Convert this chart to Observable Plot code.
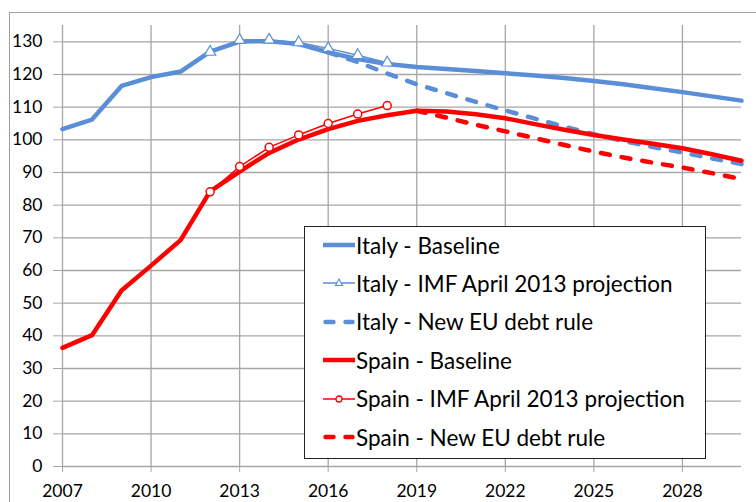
<!DOCTYPE html>
<html>
<head>
<meta charset="utf-8">
<script src="https://cdn.jsdelivr.net/npm/d3@7"></script>
<script src="https://cdn.jsdelivr.net/npm/@observablehq/plot@0.6"></script>
<style>
  html, body { margin: 0; padding: 0; background: #fff; }
  #wrap { position: relative; width: 756px; height: 502px; overflow: hidden; font-family: Lato, "Open Sans", sans-serif; }
  #border { position: absolute; left: 9px; top: 12px; width: 800px; height: 600px; border: 1px solid #a0a0a0; box-sizing: border-box; }
  #chart { position: absolute; left: 0; top: 0; }
  #legend { position: absolute; left: 304px; top: 226px; width: 402px; height: 233px; background: #fff; border: 1px solid #222; box-sizing: border-box; }
  .row { position: absolute; left: 18px; height: 26px; display: flex; align-items: center; font-size: 22.5px; color: #000; white-space: nowrap; }
  .row svg { width: 32px; height: 14px; display: block; }
  .row span { margin-left: 1px; }
</style>
</head>
<body>
<div id="wrap">
  <div id="border"></div>
  <div id="chart"></div>
  <div id="legend"></div>
</div>
<script>
// ---- data ----
const years = [2007,2008,2009,2010,2011,2012,2013,2014,2015,2016,2017,2018,2019,2020,2021,2022,2023,2024,2025,2026,2027,2028,2029,2030];
const italyBaseline = [103.3,106.2,116.5,119.2,120.9,127.0,130.1,130.2,129.3,126.8,124.7,123.2,122.3,121.7,121.1,120.4,119.7,118.9,118.0,117.0,115.8,114.6,113.3,112.0];
const italyIMFYears = [2012,2013,2014,2015,2016,2017,2018];
const italyIMF = [126.9,130.5,130.6,129.8,128.0,125.9,123.6];
const italyEUYears = [2016,2017,2018,2019,2020,2021,2022,2023,2024,2025,2026,2027,2028,2029,2030];
const italyEU = [126.8,123.8,120.3,117.0,114.3,111.6,109.0,106.5,104.0,101.7,99.6,97.8,96.1,94.3,92.6];
const spainBaseline = [36.3,40.2,53.9,61.5,69.3,84.2,90.3,96.0,100.1,103.3,105.8,107.5,108.9,108.7,107.8,106.6,104.8,103.1,101.5,100.1,98.8,97.4,95.6,93.6];
const spainIMFYears = [2012,2013,2014,2015,2016,2017,2018];
const spainIMF = [84.1,91.8,97.7,101.5,105.0,107.9,110.5];
const spainEUYears = [2019,2020,2021,2022,2023,2024,2025,2026,2027,2028,2029,2030];
const spainEU = [108.9,106.8,104.6,102.6,100.5,98.4,96.4,94.6,93.0,91.5,89.8,88.0];
const xTicks = [2007,2010,2013,2016,2019,2022,2025,2028];
const yTicks = [0,10,20,30,40,50,60,70,80,90,100,110,120,130];
const seriesNames = ["Italy - Baseline","Italy - IMF April 2013 projection","Italy - New EU debt rule","Spain - Baseline","Spain - IMF April 2013 projection","Spain - New EU debt rule"];

const blue = "#5a8fd8";
const red = "#ff0000";
const grid = "#a6a6a6";

const zip = (xs, ys) => xs.map((x, i) => ({x, y: ys[i]}));
const itB = zip(years, italyBaseline);
const itI = zip(italyIMFYears, italyIMF);
const itE = zip(italyEUYears, italyEU);
const spB = zip(years, spainBaseline);
const spI = zip(spainIMFYears, spainIMF);
const spE = zip(spainEUYears, spainEU);

const plot = Plot.plot({
  width: 756,
  height: 502,
  marginLeft: 62,
  marginRight: 15,
  marginTop: 25,
  marginBottom: 36,
  style: {fontFamily: "Lato, 'Open Sans', sans-serif", fontSize: "17.5px", background: "transparent", overflow: "visible"},
  x: {domain: [2007, 2030]},
  y: {domain: [0, 135]},
  marks: [
    Plot.gridY(yTicks.filter(d => d > 0), {stroke: grid, strokeOpacity: 1, strokeWidth: 1.3}),
    Plot.gridX(xTicks.filter(d => d > 2007), {stroke: grid, strokeOpacity: 1, strokeWidth: 1.3}),
    Plot.ruleX([2007], {stroke: grid, strokeWidth: 1.3}),
    Plot.ruleY([0], {stroke: grid, strokeWidth: 1.3}),
    Plot.axisX({ticks: xTicks, tickFormat: d => String(d), tickSize: 6, tickPadding: 12, stroke: grid, fill: "#000", fontSize: 17.5, label: null}),
    Plot.axisY({ticks: yTicks, tickSize: 9, tickPadding: 11, stroke: grid, fill: "#000", fontSize: 17.5, label: null}),
    Plot.line(itB, {x: "x", y: "y", stroke: blue, strokeWidth: 4.5}),
    Plot.line(itI, {x: "x", y: "y", stroke: blue, strokeWidth: 1.5}),
    Plot.dot(itI, {x: "x", y: "y", symbol: "triangle", r: 4.2, stroke: blue, fill: "#fff", strokeWidth: 1.2}),
    Plot.line(itE, {x: "x", y: "y", stroke: blue, strokeWidth: 4.5, strokeDasharray: "9,12", strokeLinecap: "round"}),
    Plot.line(spB, {x: "x", y: "y", stroke: red, strokeWidth: 4.5}),
    Plot.line(spI, {x: "x", y: "y", stroke: red, strokeWidth: 1.5}),
    Plot.dot(spI, {x: "x", y: "y", symbol: "circle", r: 4, stroke: red, fill: "#fff", strokeWidth: 1.5}),
    Plot.line(spE, {x: "x", y: "y", stroke: red, strokeWidth: 4.5, strokeDasharray: "9,12", strokeLinecap: "round"})
  ]
});
document.getElementById("chart").appendChild(plot);

// ---- legend ----
const legendStyles = [
  {color: blue, w: 4.5, dash: null, marker: null},
  {color: blue, w: 1.5, dash: null, marker: "triangle"},
  {color: blue, w: 4.5, dash: "8,12", marker: null},
  {color: red, w: 4.5, dash: null, marker: null},
  {color: red, w: 1.5, dash: null, marker: "circle"},
  {color: red, w: 4.5, dash: "8,12", marker: null}
];
const legend = document.getElementById("legend");
seriesNames.forEach((name, i) => {
  const s = legendStyles[i];
  const row = document.createElement("div");
  row.className = "row";
  row.style.top = (5 + i * 38.4) + "px";
  let svg = `<svg viewBox="0 0 32 14">`;
  svg += `<line x1="${s.dash ? 2.5 : 0}" y1="7" x2="${s.dash ? 29.5 : 32}" y2="7" stroke="${s.color}" stroke-width="${s.w}" ${s.dash ? `stroke-dasharray="${s.dash}" stroke-linecap="round"` : ""}/>`;
  if (s.marker === "triangle") svg += `<path d="M16,3 L19.5,9.5 L12.5,9.5 Z" fill="#fff" stroke="${s.color}" stroke-width="1.1"/>`;
  if (s.marker === "circle") svg += `<circle cx="16" cy="7" r="3" fill="#fff" stroke="${s.color}" stroke-width="1.3"/>`;
  svg += `</svg>`;
  row.innerHTML = svg + `<span>${name}</span>`;
  legend.appendChild(row);
});
</script>
</body>
</html>
